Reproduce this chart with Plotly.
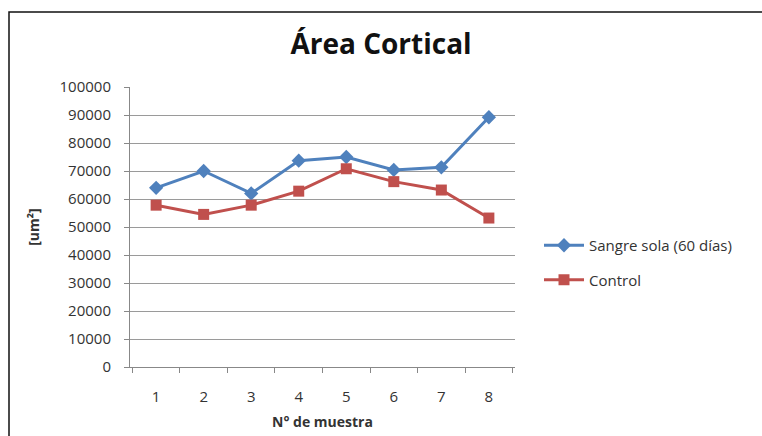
import plotly.graph_objects as go

categories = ["1", "2", "3", "4", "5", "6", "7", "8"]
sangre = [64000, 70000, 62000, 73700, 75000, 70400, 71300, 89200]
control = [57800, 54500, 57800, 62800, 70800, 66200, 63200, 53200]
series_names = ["Sangre sola (60 días)", "Control"]
yticks = list(range(0, 100001, 10000))

FONT = "Open Sans"
L, R, T, B = 130, 247, 87, 69
W, H = 762, 436
pw, ph = W - L - R, H - T - B

fig = go.Figure()
fig.add_trace(go.Scatter(
    x=categories, y=sangre, name=series_names[0], mode="lines+markers",
    line=dict(color="#4F81BD", width=3),
    marker=dict(symbol="diamond", size=11, color="#4F81BD"),
    legendgroup="a"))
fig.add_trace(go.Scatter(
    x=categories, y=control, name=series_names[1], mode="lines+markers",
    line=dict(color="#C0504D", width=3),
    marker=dict(symbol="square", size=11, color="#C0504D"),
    legendgroup="b"))

def px(xp):
    return (xp - L) / pw

def py(yp):
    return (H - B - yp) / ph

fig.update_layout(
    width=W, height=H,
    margin=dict(l=L, r=R, t=T, b=B),
    paper_bgcolor="white", plot_bgcolor="white",
    font=dict(family=FONT, color="#333333", size=14),
    title=dict(text="<b>Área Cortical</b>", x=(381) / W, xanchor="center",
               y=1 - 44 / H, yanchor="middle",
               font=dict(size=28, family=FONT, color="#111111")),
    xaxis=dict(type="category", tickson="boundaries", ticks="outside",
               ticklen=5, tickcolor="#888888", showline=True,
               linecolor="#888888", linewidth=1, showgrid=False,
               ticklabelstandoff=16, automargin=False,
               title=dict(text="<b>N° de muestra</b>", font=dict(size=14), standoff=12),
               tickfont=dict(size=15)),
    yaxis=dict(range=[0, 100000], tickvals=yticks,
               ticktext=[str(v) for v in yticks], ticks="outside",
               ticklen=5, tickcolor="#888888", showline=True,
               linecolor="#888888", linewidth=1, showgrid=True,
               gridcolor="#9a9a9a", gridwidth=1, zeroline=False,
               ticklabelstandoff=10, automargin=False,
               title=dict(text="<b>[um²]</b>", font=dict(size=14), standoff=16),
               tickfont=dict(size=15)),
    legend=dict(x=px(539), y=py(229), xanchor="left", yanchor="top",
                font=dict(size=15), tracegroupgap=12, itemwidth=40,
                bgcolor="rgba(0,0,0,0)"),
    showlegend=True,
    shapes=[dict(type="rect", xref="paper", yref="paper",
                 x0=px(9), x1=px(800), y0=py(460), y1=py(12),
                 line=dict(color="#111111", width=1.5), fillcolor="rgba(0,0,0,0)",
                 layer="below")],
)

fig.write_html("out.html")
